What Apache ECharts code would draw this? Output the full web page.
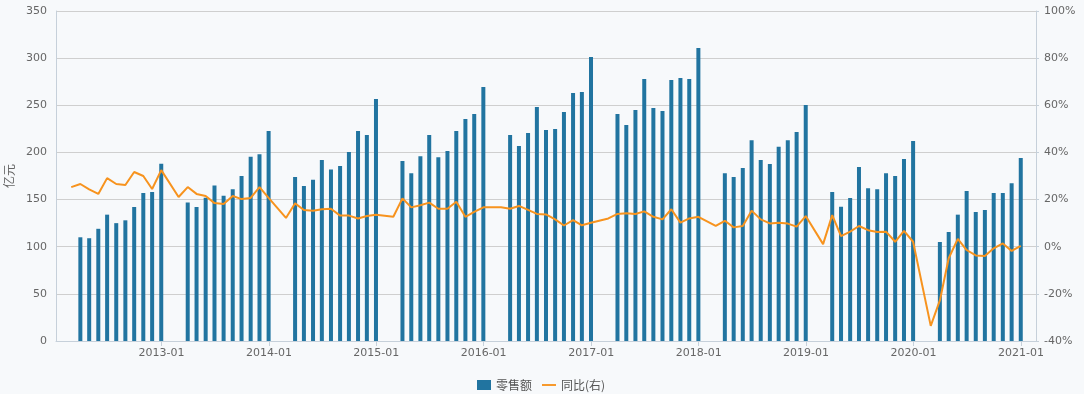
<!DOCTYPE html>
<html><head><meta charset="utf-8">
<script src="https://cdn.jsdelivr.net/npm/echarts@6/dist/echarts.min.js"></script>
<style>html,body{margin:0;padding:0;background:#f7f9fb;}#c{width:1084px;height:394px;}</style>
</head><body><div id="c"></div>
<script>
// Months (month-end data points), Feb 2012 .. Dec 2020
const months = [];
for (let y = 2012; y <= 2020; y++) for (let m = 1; m <= 12; m++) { if (y === 2012 && m < 2) continue; months.push(y + '-' + String(m).padStart(2, '0')); }

// 零售额 (亿元), Jan & Feb not reported separately
const retail2012 = [null, 110, 109, 119, 134, 125, 128, 142, 157, 158, 188];           // Feb..Dec
const retail2013 = [null, null, 147, 142, 152, 165, 154, 161, 175, 195.5, 198, 222.7];
const retail2014 = [null, null, 174, 164.5, 171, 192, 182, 185.5, 200.5, 222.7, 218.5, 256.6];
const retail2015 = [null, null, 191, 178, 196, 218.5, 195, 201.5, 222.7, 235.4, 240.7, 269.4];
const retail2016 = [null, null, 218.5, 206.8, 220.6, 248.2, 223.8, 224.8, 242.9, 263, 264, 301.2];
const retail2017 = [null, null, 240.7, 229, 245, 277.9, 247, 244, 276.8, 279, 277.9, 310.7];
const retail2018 = [null, null, 178, 174, 183.5, 213, 192, 187.7, 206, 213, 221.7, 250.3];
const retail2019 = [null, null, 158, 142.5, 151.7, 184.5, 162, 161, 178, 175, 193, 212];
const retail2020 = [null, null, 105, 115.6, 134, 159, 136.8, 139, 157, 157, 167.3, 194];

// 同比 (%), January not reported
const yoy2012 = [25.3, 26.6, 24.3, 22.4, 29.1, 26.6, 26.2, 31.7, 30.0, 24.5, 32.5];      // Feb..Dec
const yoy2013 = [null, 21.1, 25.3, 22.4, 21.5, 18.5, 18.1, 21.5, 20.2, 20.7, 25.3, 20.7];
const yoy2014 = [null, 12.2, 18.4, 15.6, 15.3, 15.9, 16.1, 13.2, 13.2, 12.0, 13.0, 13.6];
const yoy2015 = [null, 12.7, 20.5, 16.7, 17.6, 18.7, 16.1, 16.1, 19.1, 12.7, 14.8, 16.7];
const yoy2016 = [null, 16.7, 16.1, 17.3, 15.6, 13.9, 13.7, 11.6, 9.0, 11.3, 9.1, 10.2];
const yoy2017 = [null, 12.0, 13.9, 14.2, 13.9, 15.0, 12.7, 11.6, 15.9, 10.2, 12.0, 12.7];
const yoy2018 = [null, 8.8, 11.0, 8.2, 8.8, 15.3, 11.6, 9.9, 10.2, 9.8, 8.5, 13.0];
const yoy2019 = [null, 1.1, 13.4, 4.5, 6.4, 8.8, 7.0, 6.2, 6.4, 2.1, 6.7, 2.1];
const yoy2020 = [null, -33.6, -22.8, -4.9, 3.3, -1.4, -3.7, -3.9, -0.7, 1.4, -1.8, 0.4];

const xTickLabels = ['2013-01','2014-01','2015-01','2016-01','2017-01','2018-01','2019-01','2020-01','2021-01'];

const retail = [].concat(retail2012, retail2013, retail2014, retail2015, retail2016, retail2017, retail2018, retail2019, retail2020);
const yoy = [].concat(yoy2012, yoy2013, yoy2014, yoy2015, yoy2016, yoy2017, yoy2018, yoy2019, yoy2020);

function monthEnd(s) { const [y, m] = s.split('-').map(Number); return new Date(y, m, 0).getTime(); }
const times = months.map(monthEnd);
const barData = times.map((t, i) => [t, retail[i]]);
const lineData = times.map((t, i) => [t, yoy[i]]);

const txt = '#666';
const axisCol = '#c6d0da';
const font = '"DejaVu Sans", sans-serif';
const chart = echarts.init(document.getElementById('c'), null, { renderer: 'canvas' });
chart.setOption({
  backgroundColor: '#f7f9fb',
  animation: false,
  textStyle: { fontFamily: font },
  grid: { left: 56, right: 48, top: 11, bottom: 53, containLabel: false, outerBoundsMode: 'none' },
  legend: {
    top: 374, left: 472, itemWidth: 14, itemHeight: 10, itemGap: 10,
    textStyle: { color: '#555', fontSize: 12, fontFamily: '"Noto Sans CJK SC", sans-serif' },
    data: [
      { name: '零售额', icon: 'rect' },
      { name: '同比(右)', icon: 'path://M0,0 L30,0 L30,4 L0,4 Z' }
    ]
  },
  xAxis: {
    type: 'time',
    min: new Date(2012, 0, 15).getTime(),
    max: new Date(2021, 1, 14).getTime(),
    minInterval: 365 * 86400000, maxInterval: 366 * 86400000,
    axisLine: { lineStyle: { color: axisCol } },
    axisTick: { show: true, length: 5, lineStyle: { color: axisCol } },
    splitLine: { show: false },
    axisLabel: {
      color: txt, fontSize: 11, fontFamily: font, margin: 7, hideOverlap: false,
      formatter: function (v) {
        const d = new Date(v);
        const s = d.getFullYear() + '-' + String(d.getMonth() + 1).padStart(2, '0');
        return xTickLabels.indexOf(s) >= 0 ? s : '';
      }
    }
  },
  yAxis: [{
    type: 'value', min: 0, max: 350, interval: 50,
    name: '亿元', nameLocation: 'middle', nameRotate: 90, nameGap: 40,
    nameTextStyle: { color: txt, fontSize: 12, fontFamily: '"Noto Sans CJK SC", sans-serif' },
    axisLine: { show: true, lineStyle: { color: axisCol } },
    axisTick: { show: false },
    splitLine: { lineStyle: { color: '#cfcfcf' } },
    axisLabel: { color: txt, fontSize: 11, fontFamily: font, margin: 9 }
  }, {
    type: 'value', min: -40, max: 100, interval: 20,
    axisLine: { show: true, lineStyle: { color: axisCol } },
    axisTick: { show: true, length: 3, lineStyle: { color: axisCol } },
    splitLine: { show: false },
    axisLabel: { color: txt, fontSize: 11, fontFamily: font, margin: 8, formatter: '{value}%' }
  }],
  series: [{
    name: '零售额', type: 'bar', data: barData, barWidth: 4,
    itemStyle: { color: '#2174a0' }
  }, {
    name: '同比(右)', type: 'line', yAxisIndex: 1, data: lineData, connectNulls: true,
    symbol: 'none', showSymbol: false, lineStyle: { color: '#f7931e', width: 2 }, itemStyle: { color: '#f7931e' }
  }]
});
</script></body></html>
